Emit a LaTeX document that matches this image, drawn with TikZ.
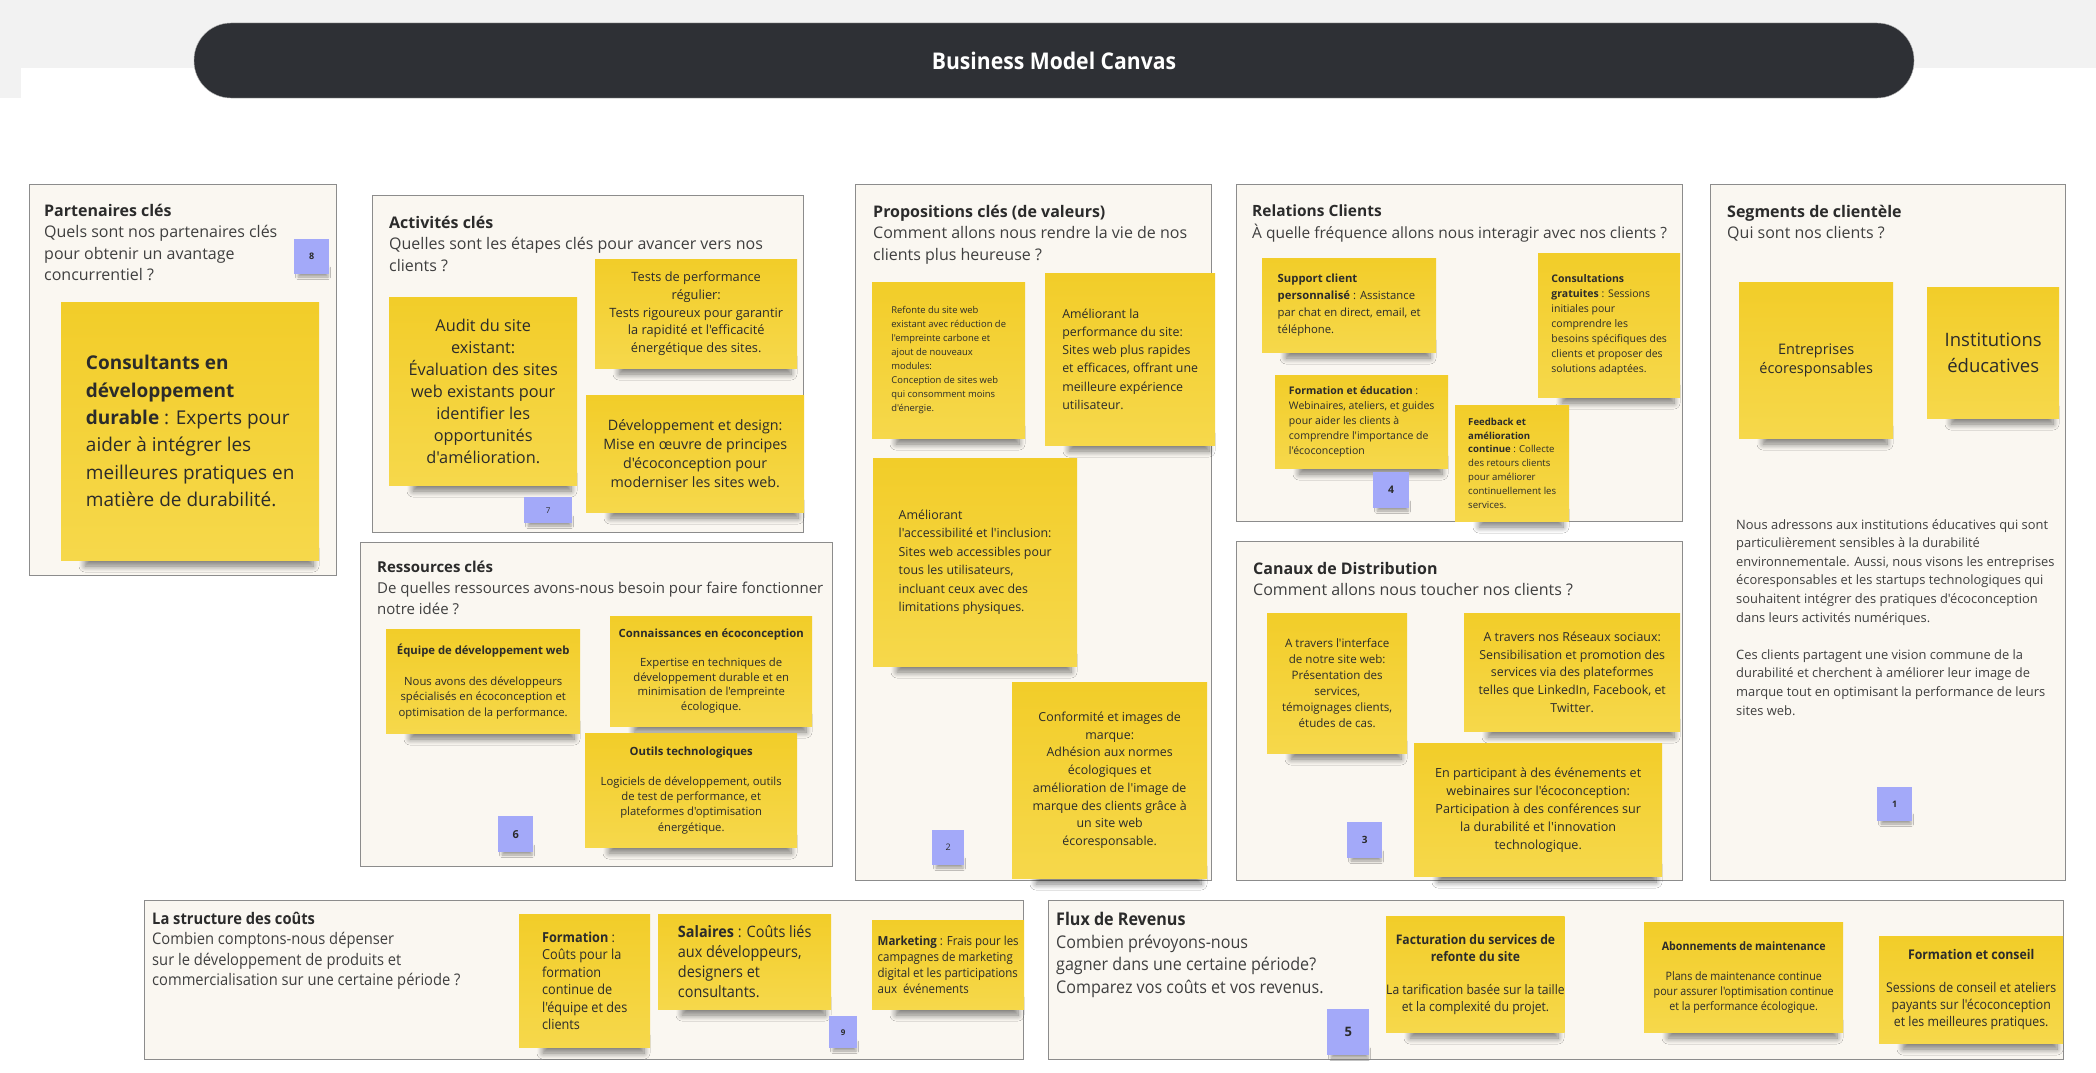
\documentclass[tikz,border=0pt]{standalone}
\usepackage{fontspec}
\setmainfont{Open Sans}[Ligatures=TeXOff]
\newfontfamily\condfont{Open Sans}[FakeStretch=0.92, Ligatures=TeXOff]
\usetikzlibrary{positioning,shadows.blur}
\definecolor{bggray}{HTML}{F2F2F2}
\definecolor{barcol}{HTML}{2E3035}
\definecolor{panelfill}{HTML}{FAF7F1}
\definecolor{panelline}{HTML}{8C8C8C}
\definecolor{notey}{HTML}{F2CD29}
\definecolor{notey2}{HTML}{F6D84B}
\definecolor{tagblue}{HTML}{A3A9F9}
\definecolor{ink}{HTML}{2B2B2B}
\definecolor{qgray}{HTML}{3F3F3F}
\newcommand\fsz[2]{\fontsize{#1}{#2}\selectfont}
% name, x, y, w, h, options, text
\newcommand\sticky[7]{%
    \path[softshadow] ({#2+24},{#3+#5-12}) rectangle ({#2+#4-6},{#3+#5+6});
    \node[note, wh={#4}{#5}, #6] (#1) at (#2,#3) {#7};}
\newcommand\tagbox[7]{%
    \path[tagshadow] ({#2+4},{#3+#5-6}) rectangle ({#2+#4-1},{#3+#5+3});
    \node[tag, wh={#4}{#5}, #6] (#1) at (#2,#3) {#7};}
\tikzset{
  wh/.style 2 args={minimum width=#1pt, minimum height=#2pt},
  panel/.style={draw=panelline, line width=1.2pt, fill=panelfill, anchor=north west, inner sep=0},
  head/.style={anchor=north west, inner sep=0, align=left, text=qgray, font=\fsz{16}{21.5}},
  note/.style={anchor=north west, inner sep=0, top color=notey, bottom color=notey2, text=ink},
  tag/.style={anchor=north west, inner sep=0, fill=tagblue, text=ink},
  softshadow/.style={blur shadow={shadow xshift=0pt, shadow yshift=0pt, shadow blur radius=6pt, shadow blur steps=8, shadow opacity=50}},
  tagshadow/.style={blur shadow={shadow xshift=0pt, shadow yshift=0pt, shadow blur radius=2.5pt, shadow opacity=35}},
  titlebar/.style={fill=barcol, draw=gray!60, rounded corners=37pt, text=white,
    font=\condfont\bfseries\fsz{23}{27}}
}
\begin{document}
\begin{tikzpicture}[x=1pt, y=-1pt]
    \useasboundingbox (0,0) rectangle (2096,1073);
    \fill[white] (0,0) rectangle (2096,1073);
    \fill[bggray] (0,0) rectangle (2096,68);
    \fill[bggray] (0,0) rectangle (21,98);
    \node[titlebar, wh={1720}{75}] (title) at (1054,60.5) {Business Model Canvas};

    \node[panel, wh={307}{391}] (kp) at (29,184) {};
    \node[panel, wh={431}{337}] (ka) at (372,195) {};
    \node[panel, wh={472}{324}] (kr) at (360,542) {};
    \node[panel, wh={356}{696}] (kv) at (855,184) {};
    \node[panel, wh={446}{337}] (kc) at (1236,184) {};
    \node[panel, wh={446}{339}] (kd) at (1236,541) {};
    \node[panel, wh={355}{696}] (ks) at (1710,184) {};
    \node[panel, wh={879}{159}] (kk) at (144,900) {};
    \node[panel, wh={1015}{159}] (kf) at (1048,900) {};

    % partenaires
    \node[head] (kph) at ([shift={(15,20)}]kp.north west) {\textbf{\textcolor{ink}{Partenaires clés}}\\Quels sont nos partenaires clés\\pour obtenir un avantage\\concurrentiel ?};
    \sticky{kp1}{61}{302}{258}{258}{align=left, font=\fsz{19}{27.4}}{\textbf{Consultants en}\\\textbf{développement}\\\textbf{durable} : Experts pour\\aider à intégrer les\\meilleures pratiques en\\matière de durabilité.}
    \tagbox{t8}{294}{239}{35}{35}{font=\bfseries\fsz{9}{11}}{8}

    % activites
    \node[head] (kah) at ([shift={(17,21)}]ka.north west) {\textbf{\textcolor{ink}{Activités clés}}\\Quelles sont les étapes clés pour avancer vers nos\\clients ?};
    \sticky{ka1}{389}{297}{188}{188}{align=center, font=\fsz{16.3}{22}}{Audit du site\\existant:\\Évaluation des sites\\web existants pour\\identifier les\\opportunités\\d'amélioration.}
    \sticky{ka2}{595}{259}{202}{109}{align=center, font=\fsz{12.8}{17.7}}{Tests de performance\\régulier:\\Tests rigoureux pour garantir\\la rapidité et l'efficacité\\énergétique des sites.}
    \sticky{ka3}{586}{395}{218}{117}{align=center, font=\fsz{14.3}{19}}{Développement et design:\\Mise en œuvre de principes\\d'écoconception pour\\moderniser les sites web.}
    \tagbox{t7}{524}{497}{48}{26}{font=\fsz{8}{10}}{7}

    % ressources
    \node[head, font=\fsz{15}{21}] (krh) at ([shift={(17,19)}]kr.north west) {\textbf{\textcolor{ink}{Ressources clés}}\\De quelles ressources avons-nous besoin pour faire fonctionner\\notre idée ?};
    \sticky{kr1}{386}{629}{194}{104}{align=center, font=\fsz{11.3}{15.5}}{\textbf{Équipe de développement web}\\[15.5pt]Nous avons des développeurs\\spécialisés en écoconception et\\optimisation de la performance.}
    \sticky{kr2}{610}{616}{202}{110}{align=center, font=\fsz{11.3}{14.7}}{\textbf{Connaissances en écoconception}\\[14pt]Expertise en techniques de\\développement durable et en\\minimisation de l'empreinte\\écologique.}
    \sticky{kr3}{585}{733}{212}{114}{align=center, font=\fsz{11.3}{15.3}}{\textbf{Outils technologiques}\\[15pt]Logiciels de développement, outils\\de test de performance, et\\plateformes d'optimisation\\énergétique.}
    \tagbox{t6}{498}{816}{35}{36}{font=\bfseries\fsz{11}{13}}{6}

    % propositions
    \node[head] (kvh) at ([shift={(18,21)}]kv.north west) {\textbf{\textcolor{ink}{Propositions clés (de valeurs)}}\\Comment allons nous rendre la vie de nos\\clients plus heureuse ?};
    \sticky{kv1}{872}{282}{153}{156}{align=left, font=\fsz{9.4}{14}}{Refonte du site web\\existant avec réduction de\\l'empreinte carbone et\\ajout de nouveaux\\modules:\\Conception de sites web\\qui consomment moins\\d'énergie.}
    \sticky{kv2}{1045}{273}{170}{172}{align=left, font=\fsz{12.4}{18.2}}{Améliorant la\\performance du site:\\Sites web plus rapides\\et efficaces, offrant une\\meilleure expérience\\utilisateur.}
    \sticky{kv3}{873}{458}{204}{208}{align=left, font=\fsz{12.4}{18.5}}{Améliorant\\l'accessibilité et l'inclusion:\\Sites web accessibles pour\\tous les utilisateurs,\\incluant ceux avec des\\limitations physiques.}
    \sticky{kv4}{1012}{682}{195}{196}{align=center, font=\fsz{12.4}{17.7}}{Conformité et images de\\marque:\\Adhésion aux normes\\écologiques et\\amélioration de l'image de\\marque des clients grâce à\\un site web\\écoresponsable.}
    \tagbox{t2}{932}{830}{32}{35}{font=\fsz{9}{11}}{2}

    % relations
    \node[head, font=\fsz{15.5}{21.5}] (kch) at ([shift={(16,21)}]kc.north west) {\textbf{\textcolor{ink}{Relations Clients}}\\À quelle fréquence allons nous interagir avec nos clients ?};
    \sticky{kc1}{1262}{258}{174}{94}{align=left, font=\fsz{11.3}{17}}{\textbf{Support client}\\\textbf{personnalisé} : Assistance\\par chat en direct, email, et\\téléphone.}
    \sticky{kc2}{1538}{253}{142}{144}{align=left, font=\fsz{10.5}{15}}{\textbf{Consultations}\\\textbf{gratuites} : Sessions\\initiales pour\\comprendre les\\besoins spécifiques des\\clients et proposer des\\solutions adaptées.}
    \sticky{kc3}{1275}{375}{173}{93}{align=left, font=\fsz{10.5}{15}}{\textbf{Formation et éducation} :\\Webinaires, ateliers, et guides\\pour aider les clients à\\comprendre l'importance de\\l'écoconception}
    \sticky{kc4}{1455}{405}{114}{116}{align=left, font=\fsz{9.6}{13.8}}{\textbf{Feedback et}\\\textbf{amélioration}\\\textbf{continue} : Collecte\\des retours clients\\pour améliorer\\continuellement les\\services.}
    \tagbox{t4}{1373}{472}{36}{36}{font=\bfseries\fsz{10.5}{12}}{4}

    % canaux
    \node[head] (kdh) at ([shift={(17,21)}]kd.north west) {\textbf{\textcolor{ink}{Canaux de Distribution}}\\Comment allons nous toucher nos clients ?};
    \sticky{kd1}{1267}{613}{140}{140}{align=center, font=\fsz{11.6}{16}}{A travers l'interface\\de notre site web:\\Présentation des\\services,\\témoignages clients,\\études de cas.}
    \sticky{kd2}{1464}{613}{216}{118}{align=center, font=\fsz{12.4}{17.8}}{A travers nos Réseaux sociaux:\\Sensibilisation et promotion des\\services via des plateformes\\telles que LinkedIn, Facebook, et\\Twitter.}
    \sticky{kd3}{1414}{743}{248}{133}{align=center, font=\fsz{12.6}{18}}{En participant à des événements et\\webinaires sur l'écoconception:\\Participation à des conférences sur\\la durabilité et l'innovation\\technologique.}
    \tagbox{t3}{1347}{822}{35}{36}{font=\bfseries\fsz{10}{12}}{3}

    % segments
    \node[head] (ksh) at ([shift={(17,21)}]ks.north west) {\textbf{\textcolor{ink}{Segments de clientèle}}\\Qui sont nos clients ?};
    \sticky{ks1}{1739}{282}{154}{156}{align=center, font=\fsz{14.5}{19}}{Entreprises\\écoresponsables}
    \sticky{ks2}{1927}{287}{132}{131}{align=center, font=\fsz{18.5}{26}}{Institutions\\éducatives}
    \node[anchor=north west, inner sep=0, align=left, text=qgray, font=\fsz{12.9}{18.6}] (ks3) at (1736,519) {Nous adressons aux institutions éducatives qui sont\\particulièrement sensibles à la durabilité\\environnementale. Aussi, nous visons les entreprises\\écoresponsables et les startups technologiques qui\\souhaitent intégrer des pratiques d'écoconception\\dans leurs activités numériques.\\[18.6pt]Ces clients partagent une vision commune de la\\durabilité et cherchent à améliorer leur image de\\marque tout en optimisant la performance de leurs\\sites web.};
    \tagbox{t1}{1877}{787}{35}{34}{font=\bfseries\fsz{9}{11}}{1}

    % couts
    \node[head, font=\condfont\fsz{16}{20.5}] (kkh) at ([shift={(8,12)}]kk.north west) {\textbf{\textcolor{ink}{La structure des coûts}}\\Combien comptons-nous dépenser\\sur le développement de produits et\\commercialisation sur une certaine période ?};
    \sticky{kk1}{519}{914}{131}{133}{align=left, font=\condfont\fsz{13.8}{17.5}}{\textbf{Formation} :\\Coûts pour la\\formation\\continue de\\l'équipe et des\\clients}
    \sticky{kk2}{658}{914}{173}{95}{align=left, font=\condfont\fsz{15.7}{20}}{\textbf{Salaires} : Coûts liés\\aux développeurs,\\designers et\\consultants.}
    \sticky{kk3}{872}{920}{152}{89}{align=left, font=\condfont\fsz{12.5}{16}}{\textbf{Marketing} : Frais pour les\\campagnes de marketing\\digital et les participations\\aux~ événements}
    \tagbox{t9}{829}{1016}{28}{32}{font=\bfseries\fsz{8}{10}}{9}

    % revenus
    \node[head, font=\condfont\fsz{17.5}{22.5}] (kfh) at ([shift={(8,12)}]kf.north west) {\textbf{\textcolor{ink}{Flux de Revenus}}\\Combien prévoyons-nous\\gagner dans une certaine période?\\Comparez vos coûts et vos revenus.};
    \sticky{kf1}{1386}{916}{178}{116}{align=center, font=\condfont\fsz{13.2}{17}}{\textbf{Facturation du services de}\\\textbf{refonte du site}\\[16pt]La tarification basée sur la taille\\et la complexité du projet.}
    \sticky{kf2}{1644}{922}{199}{110}{align=center, font=\condfont\fsz{11.6}{15}}{\textbf{Abonnements de maintenance}\\[15pt]Plans de maintenance continue\\pour assurer l'optimisation continue\\et la performance écologique.}
    \sticky{kf3}{1879}{936}{184}{107}{align=center, font=\condfont\fsz{13.4}{17}}{\textbf{Formation et conseil}\\[16pt]Sessions de conseil et ateliers\\payants sur l'écoconception\\et les meilleures pratiques.}
    \tagbox{t5}{1327}{1009}{42}{46}{font=\bfseries\fsz{13}{15}}{5}
\end{tikzpicture}
\end{document}
